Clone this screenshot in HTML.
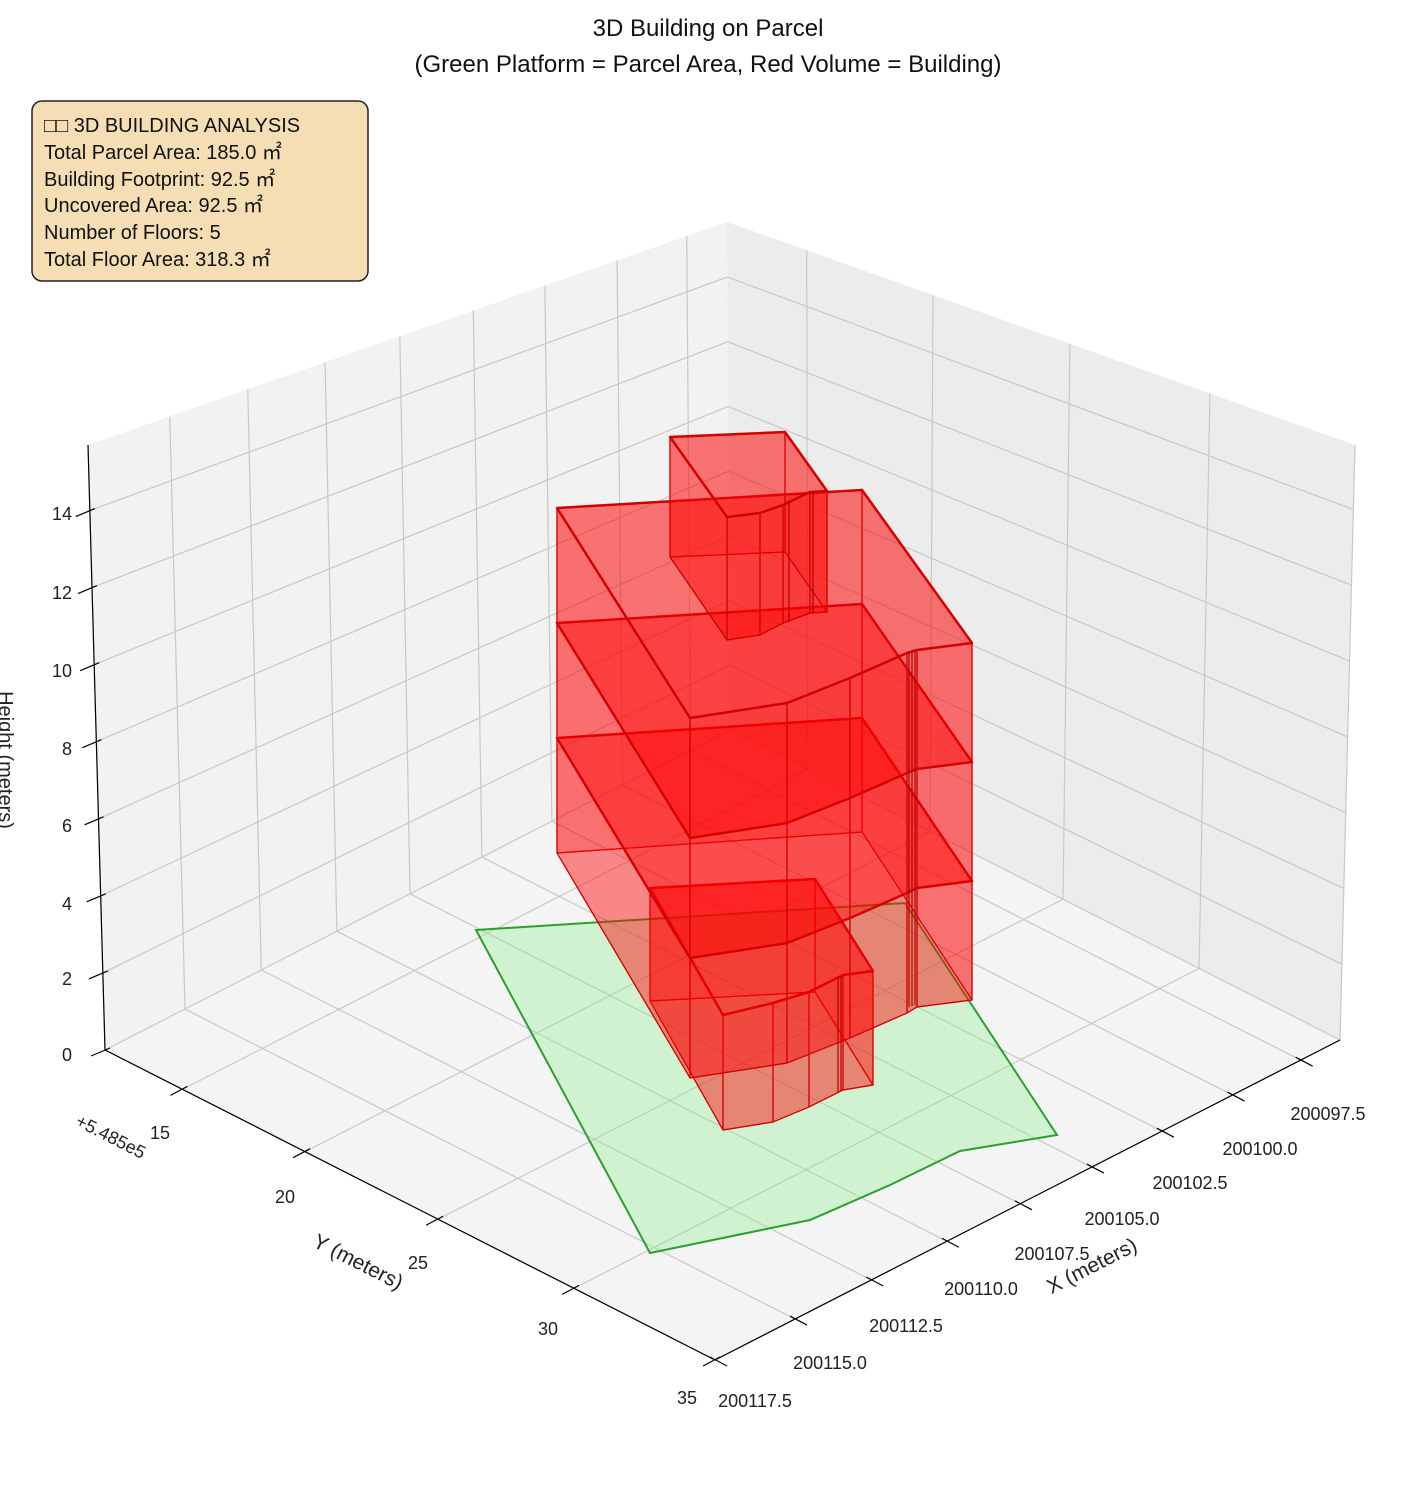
<!DOCTYPE html>
<html><head><meta charset="utf-8"><style>
html,body{margin:0;padding:0;background:#fff;}
svg{display:block;font-family:"Liberation Sans","DejaVu Sans",sans-serif;}
</style></head><body>
<svg id="s" width="1416" height="1486" viewBox="0 0 1416 1486" xmlns="http://www.w3.org/2000/svg">
<rect width="1416" height="1486" fill="#fff"/>
<polygon points="88,445 727,222 730,730 105,1050" fill="#f2f2f2"/>
<polygon points="727,222 1355,445 1340,1040 730,730" fill="#ececec"/>
<polygon points="105,1050 730,730 1340,1040 715,1360" fill="#f4f4f4"/>
<g id="grid" stroke="#c8c8c8" stroke-width="1.2" fill="none"></g>
<polygon points="476,930 905,903 1057,1135 960,1151 890,1185 810,1220 650,1253" fill="rgba(144,238,144,0.35)" stroke="#2ca02c" stroke-width="2"/>
<g id="bld" stroke="#d40000" fill="rgba(255,0,0,0.32)" stroke-width="1.6" stroke-linejoin="round"></g>
<g stroke="#b00000" stroke-width="1.2">
<line x1="909" y1="652" x2="909" y2="1007"/><line x1="912" y1="651" x2="912" y2="1006"/><line x1="915" y1="650" x2="915" y2="1005"/>
<line x1="838" y1="977" x2="838" y2="1092"/><line x1="841" y1="976" x2="841" y2="1091"/>
<line x1="789" y1="500" x2="789" y2="622"/><line x1="813" y1="492" x2="813" y2="613"/>
</g>
<g id="ticks" stroke="#000" stroke-width="1.2"></g>
<line x1="88" y1="445" x2="105" y2="1050" stroke="#000" stroke-width="1.2"/>
<line x1="105" y1="1050" x2="715" y2="1360" stroke="#000" stroke-width="1.2"/>
<line x1="715" y1="1360" x2="1340" y2="1040" stroke="#000" stroke-width="1.2"/>
<text x="708" y="36" font-size="24" text-anchor="middle" fill="#111">3D Building on Parcel</text>
<text x="708" y="72" font-size="24" text-anchor="middle" fill="#111">(Green Platform = Parcel Area, Red Volume = Building)</text>
<rect x="32" y="101" width="336" height="180" rx="10" fill="#f5deb3" stroke="#222" stroke-width="1.5"/>
<g font-size="20" fill="#111">
<text x="44" y="132">□□ 3D BUILDING ANALYSIS</text>
<text x="44" y="159">Total Parcel Area: 185.0 ㎡</text>
<text x="44" y="186">Building Footprint: 92.5 ㎡</text>
<text x="44" y="212">Uncovered Area: 92.5 ㎡</text>
<text x="44" y="239">Number of Floors: 5</text>
<text x="44" y="266">Total Floor Area: 318.3 ㎡</text>
</g>
<g font-size="18" fill="#222" text-anchor="end">
<text x="72" y="1061">0</text><text x="72" y="985">2</text><text x="72" y="910">4</text><text x="72" y="832">6</text>
<text x="72" y="755">8</text><text x="72" y="677">10</text><text x="72" y="599">12</text><text x="72" y="520">14</text>
</g>
<text transform="translate(-1,760) rotate(90)" font-size="20" fill="#222" text-anchor="middle">Height (meters)</text>
<g font-size="18" fill="#222" text-anchor="middle">
<text x="160" y="1139">15</text><text x="285" y="1203">20</text><text x="418" y="1269">25</text><text x="548" y="1335">30</text><text x="687" y="1404">35</text>
</g>
<text transform="translate(355,1268) rotate(27)" font-size="21" fill="#222" text-anchor="middle">Y (meters)</text>
<text transform="translate(108,1142) rotate(27)" font-size="18" fill="#222" text-anchor="middle">+5.485e5</text>
<g font-size="18" fill="#222" text-anchor="middle">
<text x="1328" y="1120">200097.5</text><text x="1260" y="1155">200100.0</text><text x="1190" y="1189">200102.5</text>
<text x="1122" y="1225">200105.0</text><text x="1052" y="1260">200107.5</text><text x="981" y="1295">200110.0</text>
<text x="906" y="1332">200112.5</text><text x="830" y="1369">200115.0</text><text x="755" y="1407">200117.5</text>
</g>
<text transform="translate(1095,1272) rotate(-27)" font-size="21" fill="#222" text-anchor="middle">X (meters)</text>
</svg>
<script>
(function(){
var NS="http://www.w3.org/2000/svg";
var B0=[730,730],L0=[105,1050],R0=[1340,1040],F0=[715,1360];
var B1=[727,222],L1=[88,445],R1=[1355,445],F1=[712,655];
function lerp(p,q,t){return [p[0]+(q[0]-p[0])*t,p[1]+(q[1]-p[1])*t];}
function P(a,b,c){
 var bot=lerp(lerp(B0,L0,a),lerp(R0,F0,a),b);
 var top=lerp(lerp(B1,L1,a),lerp(R1,F1,a),b);
 return lerp(bot,top,c);}
function line(g,p,q){var l=document.createElementNS(NS,"line");l.setAttribute("x1",p[0]);l.setAttribute("y1",p[1]);l.setAttribute("x2",q[0]);l.setAttribute("y2",q[1]);g.appendChild(l);}
var g=document.getElementById("grid");
var xs=[0.063,0.172,0.285,0.397,0.512,0.629,0.75,0.872,1.0];
var ys=[0.127,0.328,0.546,0.769,1.0];
var zs=[];
for(var z=0;z<=14.01;z+=2)zs.push(z/15.7);
xs.forEach(function(a){line(g,P(a,0,0),P(a,0,1));line(g,P(a,0,0),P(a,1,0));});
ys.forEach(function(b){line(g,P(0,b,0),P(0,b,1));line(g,P(0,b,0),P(1,b,0));});
zs.forEach(function(c){line(g,P(1,0,c),P(0,0,c));line(g,P(0,0,c),P(0,1,c));});
var t=document.getElementById("ticks");
xs.forEach(function(a){var p=P(a,1,0);line(t,[p[0]-5,p[1]-3],[p[0]+12,p[1]+6]);});
ys.forEach(function(b){var p=P(1,b,0);line(t,[p[0]+5,p[1]-3],[p[0]-12,p[1]+6]);});
zs.forEach(function(c){var p=P(1,0,c);line(t,[p[0]+5,p[1]-2],[p[0]-14,p[1]+6]);});
var bg=document.getElementById("bld");
function poly(pts,op){var e=document.createElementNS(NS,"polygon");e.setAttribute("points",pts.map(function(p){return p[0]+","+p[1];}).join(" "));if(op)for(var k in op)e.setAttribute(k,op[k]);bg.appendChild(e);}
function shift(pts,d){return pts.map(function(p,i){return [p[0],p[1]+(typeof d=="number"?d:d[i])];});}
function prism(top,d){
 var bot=shift(top,d);
 poly(bot,{fill:"rgba(255,0,0,0.18)","stroke-width":"1.2"});
 for(var i=0;i<top.length;i++){var j=(i+1)%top.length;poly([top[i],top[j],bot[j],bot[i]],{"stroke-width":"1.2"});}
 poly(top,{fill:"rgba(255,0,0,0.3)","stroke-width":"2.5"});
}
var low=[[650,888],[815,879],[873,971],[843,975],[809,992],[773,1003],[723,1015]];
prism(low,[113,113,114,115,115,119,115]);
var main=[[557,508],[862,490],[972,643],[917,650],[907,653],[850,678],[787,703],[690,718]];
var d=[115,114,119,119,120,120,120,120];
for(var k=2;k>=0;k--){prism(shift(main,d.map(function(v){return v*k;})),d);}
var topb=[[670,437],[785,432],[827,491],[810,492],[783,505],[760,513],[727,517]];
prism(topb,[120,120,121,121,118,122,123]);
})();
</script>
</body></html>
